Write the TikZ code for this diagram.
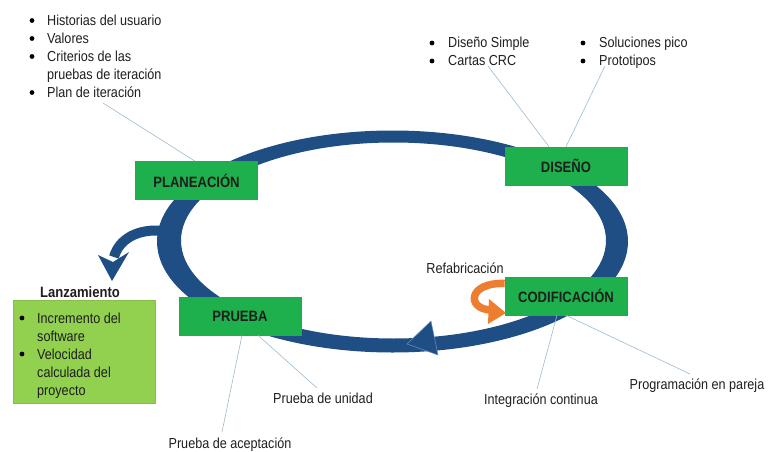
\documentclass[tikz,border=0pt]{standalone}
\usepackage{fontspec}
\setmainfont{Liberation Sans}[FakeStretch=0.87]
\definecolor{loopblue}{HTML}{1F4E85}
\definecolor{loopedge}{HTML}{6F93C0}
\definecolor{stagegreen}{HTML}{1EB04C}
\definecolor{stageedge}{HTML}{3F9A52}
\definecolor{releasegreen}{HTML}{92D050}
\definecolor{releaseedge}{HTML}{86BE4C}
\definecolor{leadercol}{HTML}{9DBBCE}
\definecolor{refactor}{HTML}{EE7D30}
\definecolor{txt}{HTML}{1E1E1E}
\begin{document}
\begin{tikzpicture}[x=1pt,y=-1pt,
  stage/.style={draw=stageedge, fill=stagegreen, line width=0.6pt,
    minimum width=122pt, minimum height=38pt, inner sep=0pt,
    font=\fontsize{15}{18}\selectfont\bfseries, text=txt},
  notes/.style={anchor=base west, inner sep=0pt, text=txt,
    font=\fontsize{14.5}{18}\selectfont},
  lbl/.style={anchor=base, inner sep=0pt, text=txt,
    font=\fontsize{14.5}{18}\selectfont},
  itemdot/.style={fill=black, radius=2.4pt},
  leader/.style={draw=leadercol, line width=0.6pt}]
\useasboundingbox (0,0) rectangle (768,452);

% iteration loop: thick elliptical band with its arrowhead
\fill[loopblue, even odd rule]
  (392.5,241.5) ellipse [x radius=235.5, y radius=111]
  (393.5,240.5) ellipse [x radius=212.5, y radius=98];
\fill[loopblue, draw=loopedge, line width=0.5pt]
  (407,344) -- (431,321) -- (438,355) -- cycle;

% release arrow leaving the loop
\draw[loopblue, line width=10pt] (164,231) .. controls (138,228) and (119,239) .. (114,257);
\fill[loopblue] (98,255) -- (113,262) -- (129,252) -- (112,281) -- cycle;

% stages
\node[stage] (plan)   at (196.5,180.5) {PLANEACIÓN};
\node[stage] (design) at (566,166)     {DISEÑO};
\node[stage] (code)   at (566,296)     {CODIFICACIÓN};
\node[stage] (test)   at (240,316)     {PRUEBA};

% refactoring arrow beside the coding stage
\draw[refactor, line width=7.5pt] (code.west |- 0,283.5) .. controls (468,282) and (466,309) .. (491,310);
\fill[refactor] (489,299) -- (506,313) -- (488,324) -- cycle;
\node[lbl] (refab) at (465,273.5) {Refabricación};

% planning notes
\node[notes] (plannotes) at (47,25.5) {\begin{tabular}[t]{@{}l@{}}
  Historias del usuario\\
  Valores\\
  Criterios de las\\
  pruebas de iteración\\
  Plan de iteración
\end{tabular}};
\foreach \y in {20.5,38.5,56.5,92.5} \fill[itemdot] (32,\y) circle;

% design notes
\node[notes] (designA) at (448,48) {\begin{tabular}[t]{@{}l@{}}
  Diseño Simple\\
  Cartas CRC
\end{tabular}};
\node[notes] (designB) at (599,48) {\begin{tabular}[t]{@{}l@{}}
  Soluciones pico\\
  Prototipos
\end{tabular}};
\foreach \y in {43,61} {
  \fill[itemdot] (432,\y) circle;
  \fill[itemdot] (583,\y) circle;
}

% release box
\node[draw=releaseedge, fill=releasegreen, line width=0.5pt, minimum width=142pt,
  minimum height=103pt, inner sep=0pt] (release) at (84,351.5) {};
\node[lbl, font=\fontsize{15}{18}\selectfont\bfseries] (releasetitle) at (80,297) {Lanzamiento};
\node[notes] (releasenotes) at (37,323) {\begin{tabular}[t]{@{}l@{}}
  Incremento del\\
  software\\
  Velocidad\\
  calculada del\\
  proyecto
\end{tabular}};
\foreach \y in {318,354} \fill[itemdot] (22,\y) circle;

% practice labels
\node[lbl] (integ) at (541,404) {Integración continua};
\node[lbl] (pair)  at (697,389) {Programación en pareja};
\node[lbl] (unit)  at (323,403) {Prueba de unidad};
\node[lbl] (accept) at (230,448) {Prueba de aceptación};

% leader lines
\coordinate (planEnd)    at (103,103);
\coordinate (designEndA) at (488,66);
\coordinate (designEndB) at (605,66);
\coordinate (integEnd)   at (537,389);
\coordinate (pairEnd)    at (690,374);
\coordinate (unitEnd)    at (317,388);
\coordinate (acceptEnd)  at (222,432);

\draw[leader] ([xshift=-1.5pt]plan.north) -- (planEnd);
\draw[leader] ([xshift=-17pt]design.north) -- (designEndA);
\draw[leader] (design.north) -- (designEndB);
\draw[leader] ([xshift=-9pt]code.south) -- (integEnd);
\draw[leader] (code.south) -- (pairEnd);
\draw[leader] ([xshift=2pt]test.south) -- (acceptEnd);
\draw[leader] ([xshift=18pt]test.south) -- (unitEnd);
\end{tikzpicture}
\end{document}
